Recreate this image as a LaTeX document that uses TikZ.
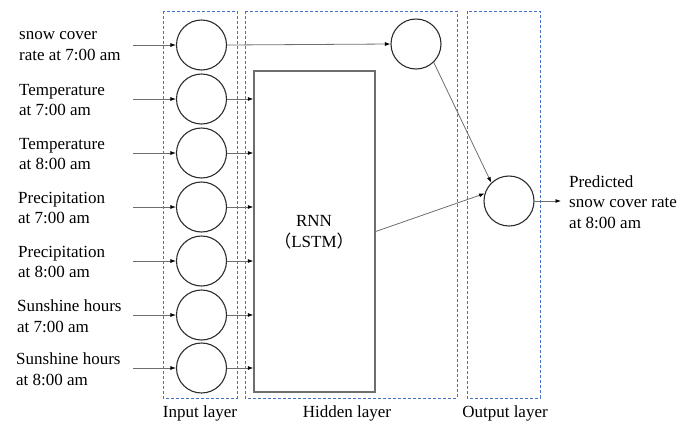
\documentclass[tikz,border=0pt]{standalone}
\usepackage{fontspec}
\setmainfont{Liberation Serif}
\newfontfamily\tnr{Liberation Serif}
\newfontfamily\cjk{Noto Sans CJK SC}
\usetikzlibrary{arrows.meta}
\definecolor{layerblue}{RGB}{68,114,196}
\definecolor{linegray}{RGB}{110,110,110}
\definecolor{circgray}{RGB}{45,45,45}
\tikzset{
  neuron/.style={circle, draw=circgray, line width=1.1pt, minimum size=50pt, inner sep=0pt},
  layerbox/.style={draw=layerblue, line width=0.9pt, dash pattern=on 3pt off 2pt},
  conn/.style={draw=linegray, line width=0.8pt, -{Latex[length=5.5pt,width=4pt,color=black]}},
  lbl/.style={font=\tnr\fontsize{17}{20.5}\selectfont, align=left, inner sep=0pt, anchor=west},
  captext/.style={font=\tnr\fontsize{17}{20.5}\selectfont, inner sep=0pt}
}
\begin{document}
\begin{tikzpicture}[x=1pt,y=-1pt]
\useasboundingbox (0,0) rectangle (697,424);
% layer boxes
\draw[layerbox] (163,11) rectangle (237,398);
\draw[layerbox] (245,11) rectangle (457,398);
\draw[layerbox] (467,11) rectangle (540,398);
% input neurons
\node[neuron] (i1) at (201.5,45) {};
\node[neuron] (i2) at (201.5,99) {};
\node[neuron] (i3) at (201.5,153) {};
\node[neuron] (i4) at (201.5,207) {};
\node[neuron] (i5) at (201.5,261) {};
\node[neuron] (i6) at (201.5,315) {};
\node[neuron] (i7) at (201.5,368) {};
% RNN box
\node[draw=linegray, line width=1.4pt, minimum width=121pt, minimum height=321pt, inner sep=0pt] (rnn) at (314.5,231.5) {};
\node[captext, align=center] (rnnlbl) at (314,232) {RNN\\[1pt]{\cjk （}LSTM{\cjk ）}};
% hidden and output neurons
\node[neuron] (h) at (416,44) {};
\node[neuron] (o) at (509,201) {};
% input labels
\node[lbl] (l1) at (19,46) {snow cover\\rate at 7:00 am};
\node[lbl] (l2) at (19,100) {Temperature\\at 7:00 am};
\node[lbl] (l3) at (19,154) {Temperature\\at 8:00 am};
\node[lbl] (l4) at (18,208) {Precipitation\\at 7:00 am};
\node[lbl] (l5) at (18,262) {Precipitation\\at 8:00 am};
\node[lbl] (l6) at (17,316) {Sunshine hours\\at 7:00 am};
\node[lbl] (l7) at (16,369) {Sunshine hours\\at 8:00 am};
% input arrow starts
\coordinate (s1) at (133,45);
\coordinate (s2) at (133,99);
\coordinate (s3) at (133,153);
\coordinate (s4) at (133,207);
\coordinate (s5) at (133,261);
\coordinate (s6) at (133,315);
\coordinate (s7) at (133,368);
\foreach \k in {1,...,7} {
  \draw[conn] (s\k) -- (i\k.west);
}
\foreach \k in {2,...,7} {
  \draw[conn] (i\k.east) -- (i\k.east -| rnn.west);
}
\draw[conn] (i1.east) -- (h.west);
\draw[conn] (h.-46) -- (o.134);
\draw[conn] (rnn.east) -- (o.163);
% output
\coordinate (out) at (561,201);
\draw[conn] (o.east) -- (out);
\node[lbl] (ol) at (569,202) {Predicted\\snow cover rate\\at 8:00 am};
% captions
\node[captext] (c1) at (200,413) {Input layer};
\node[captext] (c2) at (347,413) {Hidden layer};
\node[captext] (c3) at (505,413) {Output layer};
\end{tikzpicture}
\end{document}
